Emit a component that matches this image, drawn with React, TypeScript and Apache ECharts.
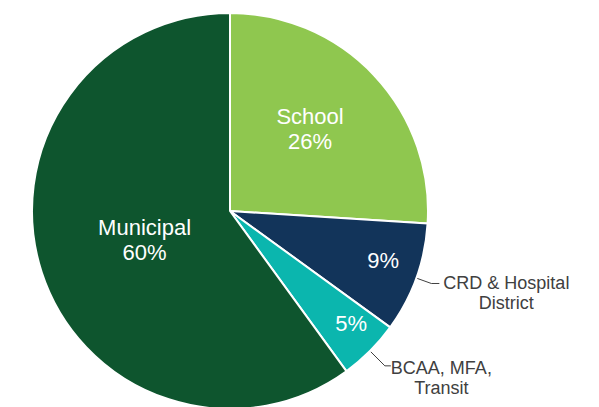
import React, { useEffect, useRef } from "react";
import * as echarts from "echarts";

const categories = ["School", "CRD & Hospital District", "BCAA, MFA, Transit", "Municipal"];
const values = [26, 9, 5, 60];
const insideLabels = ["School\n26%", "9%", "5%", "Municipal\n60%"];
const outsideLabels = ["", "CRD & Hospital\nDistrict", "BCAA, MFA,\nTransit", ""];
const colors = ["#8FC74F", "#12345A", "#0BB6AE", "#0E552E"];

const FONT = "'Liberation Sans', Arial, sans-serif";
const CENTER = [230, 211];
const R = 198;

// small label nudges (dx, dy) per data index
const insideNudge = [
  [-6, -1],
  [-4, -7],
  [3, -6],
  [3, 0],
];
const outsideNudge = [
  [0, 0],
  [0, 10],
  [-4, 12],
  [0, 0],
];

function overlay(radius: any, showIdx: number[]) {
  return {
    type: "pie",
    center: CENTER,
    radius,
    startAngle: 90,
    clockwise: true,
    silent: true,
    avoidLabelOverlap: false,
    emphasis: { disabled: true },
    itemStyle: { color: "transparent", borderWidth: 0 },
    labelLine: { show: false },
    labelLayout: (p: any) => ({ dx: insideNudge[p.dataIndex][0], dy: insideNudge[p.dataIndex][1] }),
    data: categories.map((name, i) => ({
      name,
      value: values[i],
      label: {
        show: showIdx.includes(i),
        position: "inside",
        formatter: insideLabels[i],
        color: "#ffffff",
        fontSize: 22,
        lineHeight: 25,
        fontFamily: FONT,
      },
    })),
  };
}

export default function App() {
  const ref = useRef<HTMLDivElement>(null);
  useEffect(() => {
    const chart = echarts.init(ref.current!, null, { renderer: "svg" });
    const lineLens = [
      [0, 0],
      [16, 8],
      [21, 6],
      [0, 0],
    ];
    chart.setOption({
      animation: false,
      backgroundColor: "#ffffff",
      series: [
        {
          type: "pie",
          center: CENTER,
          radius: R,
          startAngle: 90,
          clockwise: true,
          avoidLabelOverlap: false,
          itemStyle: { borderColor: "#ffffff", borderWidth: 2 },
          labelLayout: (p: any) => ({ dx: outsideNudge[p.dataIndex][0], dy: outsideNudge[p.dataIndex][1] }),
          data: categories.map((name, i) => ({
            name,
            value: values[i],
            itemStyle: { color: colors[i] },
            label: {
              show: outsideLabels[i] !== "",
              position: "outside",
              formatter: outsideLabels[i]
                .split("\n")
                .map((s) => `{c|${s}}`)
                .join("\n"),
              distanceToLabelLine: 4,
              rich: {
                c: {
                  align: "center",
                  color: "#404040",
                  fontSize: 18,
                  lineHeight: 20,
                  fontFamily: FONT,
                },
              },
            },
            labelLine: {
              show: outsideLabels[i] !== "",
              length: lineLens[i][0],
              length2: lineLens[i][1],
              lineStyle: { color: "#404040", width: 1 },
            },
          })),
        },
        overlay([0, 230], [0]),
        overlay([0, 180], [3]),
        overlay([130, 198], [1, 2]),
      ],
    });
    return () => chart.dispose();
  }, []);
  return (
    <div
      ref={ref}
      style={{ position: "absolute", left: 0, top: 0, width: 599, height: 407 }}
    />
  );
}
